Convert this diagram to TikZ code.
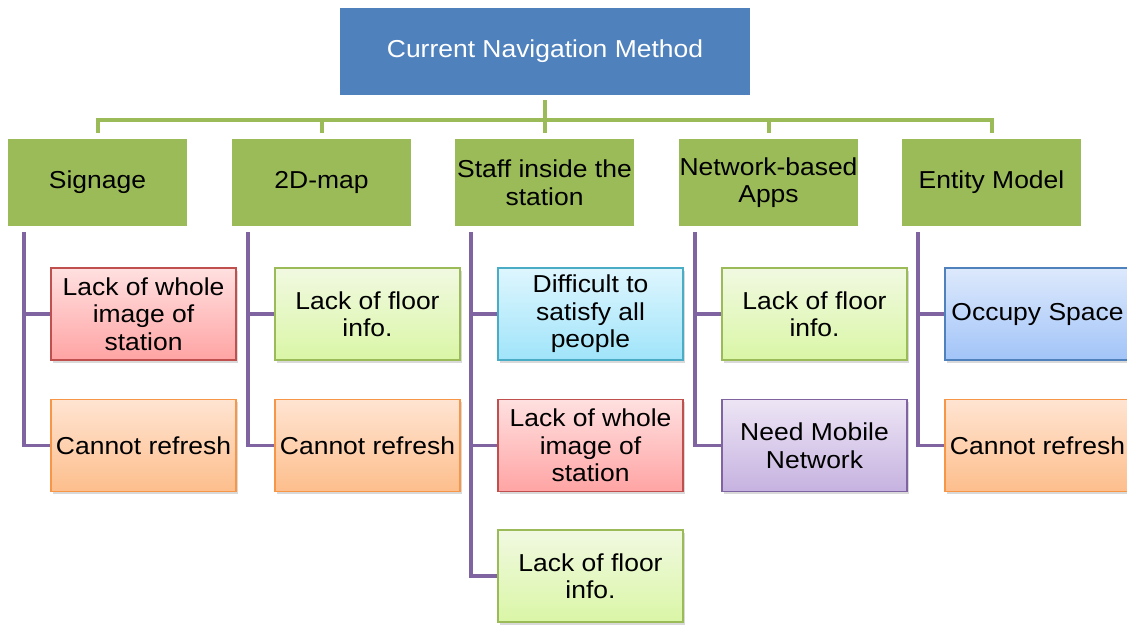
\documentclass[tikz,border=0pt]{standalone}
\usepackage{fontspec}
\setmainfont{Liberation Sans}[FakeStretch=1.08]
\usetikzlibrary{shadows}

\definecolor{rootblue}{HTML}{4F81BD}
\definecolor{olivegreen}{HTML}{9BBB59}
\definecolor{linkpurple}{HTML}{8064A2}
\definecolor{issuered}{HTML}{C0504D}
\definecolor{issueorange}{HTML}{F79646}
\definecolor{issuecyan}{HTML}{4BACC6}

\begin{document}
\begin{tikzpicture}[
        x=1pt,y=1pt,
        every node/.style={font=\fontsize{24.5}{27.5}\selectfont},
        rootbox/.style={fill=rootblue,text=white,minimum width=410pt,minimum height=87pt,inner sep=0pt},
        method/.style={fill=olivegreen,minimum width=179pt,minimum height=87pt,align=center,inner sep=0pt},
        issue/.style={draw,line width=1.4pt,minimum width=185pt,minimum height=92pt,align=center,inner sep=0pt,
            drop shadow={shadow xshift=1.5pt,shadow yshift=-3pt,opacity=0.25,fill=black!60}},
        redissue/.style={issue,draw=issuered,top color={rgb,255:red,255;green,224;blue,224},bottom color={rgb,255:red,255;green,164;blue,164}},
        greenissue/.style={issue,draw=olivegreen,top color={rgb,255:red,241;green,249;blue,225},bottom color={rgb,255:red,218;green,246;blue,166}},
        orangeissue/.style={issue,draw=issueorange,top color={rgb,255:red,255;green,228;blue,210},bottom color={rgb,255:red,253;green,190;blue,140}},
        cyanissue/.style={issue,draw=issuecyan,top color={rgb,255:red,222;green,246;blue,254},bottom color={rgb,255:red,160;green,228;blue,250}},
        purpleissue/.style={issue,draw=linkpurple,top color={rgb,255:red,237;green,229;blue,245},bottom color={rgb,255:red,198;green,178;blue,224}},
        blueissue/.style={issue,draw=rootblue,top color={rgb,255:red,221;green,233;blue,252},bottom color={rgb,255:red,162;green,196;blue,248}},
        greenline/.style={draw=olivegreen,line width=4pt},
        purpleline/.style={draw=linkpurple,line width=3.8pt}
    ]
        \useasboundingbox (0,0) rectangle (1127,624);

        % Define the nodes
        \node[rootbox] (root) at (545,572.5) {Current Navigation Method};

        \node[method] (sign)   at (97.5,441.5)  {Signage};
        \node[method] (map)    at (321.5,441.5) {2D-map};
        \node[method] (staff)  at (544.5,441.5) {Staff inside the\\station};
        \node[method] (apps)   at (768.5,441.5) {Network-based\\Apps};
        \node[method] (entity) at (991.5,441.5) {Entity Model};

        \node[redissue]    (sign1) at (143.5,310)   {Lack of whole\\image of\\station};
        \node[orangeissue] (sign2) at (143.5,178.5) {Cannot refresh};

        \node[greenissue]  (map1) at (367.5,310)   {Lack of floor\\info.};
        \node[orangeissue] (map2) at (367.5,178.5) {Cannot refresh};

        \node[cyanissue]  (staff1) at (590.5,310)   {Difficult to\\satisfy all\\people};
        \node[redissue]   (staff2) at (590.5,178.5) {Lack of whole\\image of\\station};
        \node[greenissue] (staff3) at (590.5,48)    {Lack of floor\\info.};

        \node[greenissue]  (apps1) at (814.5,310)   {Lack of floor\\info.};
        \node[purpleissue] (apps2) at (814.5,178.5) {Need Mobile\\Network};

        \node[blueissue]   (entity1) at (1037.5,310)   {Occupy Space};
        \node[orangeissue] (entity2) at (1037.5,178.5) {Cannot refresh};

        % Draw the green bus from the root
        \coordinate (bus) at (545,504);
        \draw[greenline] ([yshift=-5pt]root.south) -- (bus);
        \draw[greenline] ([yshift=6pt]sign.north) -- (sign.north |- bus) -- (entity.north |- bus) -- ([yshift=6pt]entity.north);
        \foreach \m in {map,staff,apps}
            \draw[greenline] ([yshift=6pt]\m.north) -- (\m.north |- bus);

        % Draw the purple trunks to the issues
        \foreach \m/\last in {sign/sign2,map/map2,staff/staff3,apps/apps2,entity/entity2} {
            \coordinate (\m trunk) at ([xshift=16pt,yshift=-6pt]\m.south west);
            \draw[purpleline] (\m trunk) |- (\last.west);
        }
        \foreach \m/\n in {sign/sign1,map/map1,staff/staff1,staff/staff2,apps/apps1,entity/entity1}
            \draw[purpleline] (\n.west) -- (\n.west -| \m trunk);
    \end{tikzpicture}
\end{document}
